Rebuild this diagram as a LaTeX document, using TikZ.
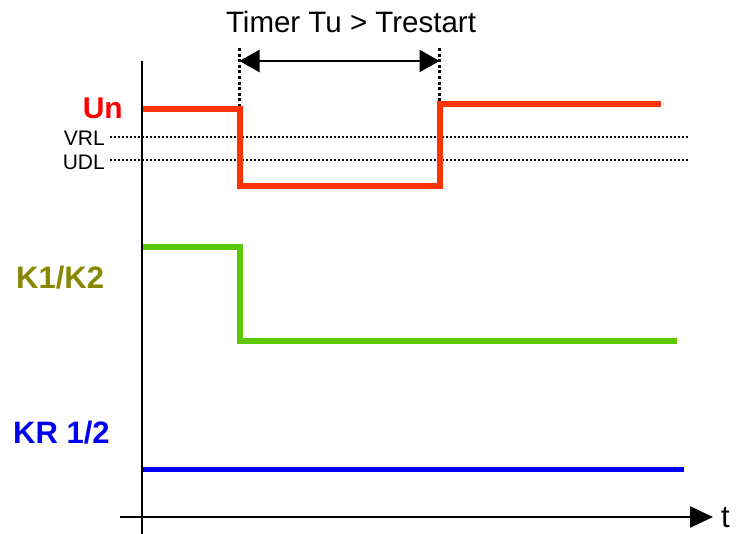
\documentclass[tikz,border=0pt]{standalone}
\usepackage{fontspec}
\setmainfont{Liberation Sans}
\usetikzlibrary{arrows.meta}
\definecolor{unred}{HTML}{FF3300}
\definecolor{untext}{HTML}{FF0000}
\definecolor{kgreen}{HTML}{5CC800}
\definecolor{kolive}{HTML}{888800}
\definecolor{kblue}{HTML}{0000F0}
\tikzset{
  axisline/.style={line width=2.4pt, black},
  signal/.style={line width=#1, line join=miter},
  refline/.style={line width=1.8pt, dash pattern=on 2pt off 2pt},
  markline/.style={line width=3pt, dash pattern=on 3pt off 2.6pt},
  lbl/.style={inner sep=0pt, font=\fontsize{30}{30}\selectfont\bfseries},
  smalllbl/.style={inner sep=0pt, font=\fontsize{21}{21}\selectfont},
}
\begin{document}
\begin{tikzpicture}[x=1pt, y=-1pt]
\useasboundingbox (0,0) rectangle (736,534);
% coordinates
\coordinate (ytop) at (142,61);
\coordinate (ybot) at (142,534);
\coordinate (xl) at (120,517);
\coordinate (xr) at (713,517);
% reference lines
\coordinate (vrlA) at (110,137);
\coordinate (vrlB) at (688,137);
\coordinate (udlA) at (110,160);
\coordinate (udlB) at (688,160);
\draw[refline] (vrlA) -- (vrlB);
\draw[refline] (udlA) -- (udlB);
% timer markers
\coordinate (m1t) at (239.5,48);
\coordinate (m1b) at (239.5,108);
\coordinate (m2t) at (439.5,48);
\coordinate (m2b) at (439.5,108);
\draw[markline] (m1t) -- (m1b);
\draw[markline] (m2t) -- (m2b);
\coordinate (a1) at (239.5,61);
\coordinate (a2) at (439.5,61);
\draw[line width=2.6pt, {Triangle[length=20pt,width=22pt]}-{Triangle[length=20pt,width=22pt]}] (a1) -- (a2);
% signals
\draw[signal=6.5pt, unred] (143,109) -- (240,109) -- (240,186) -- (440,186) -- (440,104) -- (661,104);
\draw[signal=6pt, kgreen] (143,247) -- (240,247) -- (240,341) -- (677,341);
\draw[signal=5pt, kblue] (143,469) -- (684,469);
% axes
\draw[axisline] (ytop) -- (ybot);
\draw[axisline, -{Triangle[length=23pt,width=21pt]}] (xl) -- (xr);
% labels
\node[inner sep=0pt, anchor=base, font=\fontsize{29.5}{29.5}\selectfont] (timer) at (351,33) {Timer Tu > Trestart};
\node[lbl, anchor=base east, text=untext] (un) at (123,119) {Un};
\node[smalllbl, anchor=base east] (vrl) at (105,146) {VRL};
\node[smalllbl, anchor=base east] (udl) at (105,170) {UDL};
\node[lbl, anchor=base west, text=kolive, font=\fontsize{31}{31}\selectfont\bfseries] (k12) at (16,289) {K1/K2};
\node[lbl, anchor=base west, text=kblue, font=\fontsize{31}{31}\selectfont\bfseries] (kr) at (13,443) {KR 1/2};
\node[inner sep=0pt, anchor=base west, font=\fontsize{31}{31}\selectfont] (t) at (721,527.5) {t};
\end{tikzpicture}
\end{document}
